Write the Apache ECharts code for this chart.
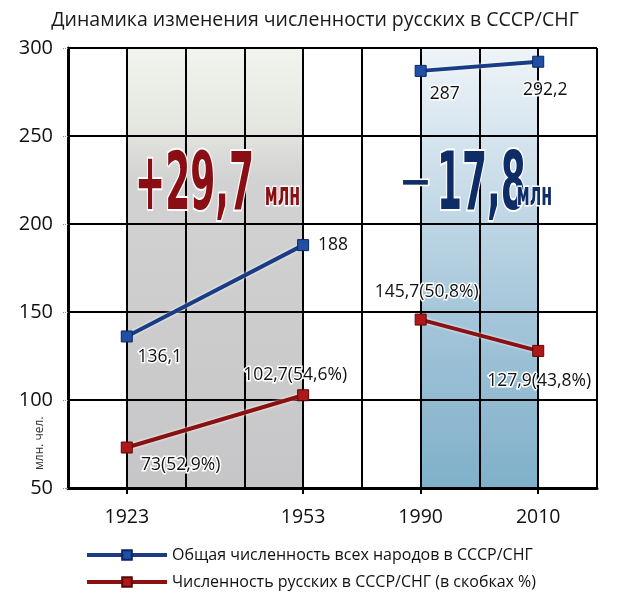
<!DOCTYPE html>
<html>
<head>
<meta charset="utf-8">
<script src="https://cdn.jsdelivr.net/npm/echarts@6/dist/echarts.min.js"></script>
<style>html,body{margin:0;padding:0;background:#fff}#c{width:630px;height:607px}</style>
</head>
<body>
<div id="c"></div>
<script>
const titleText = 'Динамика изменения численности русских в СССР/СНГ';
const categories = ['', '1923', '', '', '1953', '', '1990', '', '2010', ''];
const years = ['1923', '1953', '1990', '2010'];
const totalValues = [136.1, 188, 287, 292.2];
const russianValues = [73, 102.7, 145.7, 127.9];
const russianShare = ['52,9', '54,6', '50,8', '43,8'];
const totalName = 'Общая численность всех народов в СССР/СНГ';
const russianName = 'Численность русских в СССР/СНГ (в скобках %)';
const sovietChange = '+29,7';
const postChange = '\u221217,8';
const unitText = 'млн';
const yAxisTitle = 'млн. чел.';

const FONT = '"Open Sans", "Noto Sans", sans-serif';
const BIG = '"DejaVu Sans Condensed", "DejaVu Sans"';
const fmt = v => String(v).replace('.', ',');

// label offsets (style only) relative to point centers
const totalOffsets = [[33, 21], [30, 0], [24, 23], [7, 28]];
const russianOffsets = [[54, 17], [-8, -20], [6, -28], [1, 30]];

function buildData(values, offsets, textFn, idxs) {
  return idxs.map(i => ({
    value: [categories.indexOf(years[i]), values[i]],
    label: { offset: offsets[i], formatter: textFn(i) }
  }));
}

const labelStyle = {
  show: true, position: 'inside', fontFamily: FONT, fontSize: 17.5, color: '#111',
  textBorderColor: '#fff', textBorderWidth: 3
};

function lineSeries(name, values, offsets, textFn, idxs, color, markerColor, markerBorder) {
  return {
    type: 'line', name: name, z: 5,
    data: buildData(values, offsets, textFn, idxs),
    symbol: 'rect', symbolSize: 11,
    lineStyle: { color: color, width: 4, shadowColor: 'rgba(255,255,255,1)', shadowBlur: 3 },
    itemStyle: { color: markerColor, borderColor: markerBorder, borderWidth: 1 },
    label: Object.assign({}, labelStyle),
    emphasis: { disabled: true },
    animation: false
  };
}

const totalText = i => fmt(totalValues[i]);
const russianText = i => fmt(russianValues[i]) + '(' + russianShare[i] + '%)';

const BLUE = '#1a3c84', BLUE_M = '#2050a6', BLUE_B = '#0b2560';
const RED = '#8a1111', RED_M = '#ad1818', RED_B = '#5a0808';

const chart = echarts.init(document.getElementById('c'), null, { renderer: 'canvas' });
chart.setOption({
  animation: false,
  backgroundColor: '#fff',
  title: {
    text: titleText, left: 'center', top: 5,
    textStyle: { fontFamily: FONT, fontSize: 19.5, fontWeight: 'normal', color: '#1a1a1a' }
  },
  grid: { left: 68, right: 33, top: 48, bottom: 119, containLabel: false },
  xAxis: {
    type: 'category', data: categories, boundaryGap: false, z: 3,
    axisLine: { show: true, lineStyle: { color: '#000', width: 3 } },
    axisTick: { show: true, interval: (i, v) => v !== '', length: 6, lineStyle: { color: '#000', width: 2 } },
    axisLabel: { interval: 0, margin: 19, fontFamily: FONT, fontSize: 19.5, color: '#111' },
    splitLine: { show: true, interval: 0, lineStyle: { color: '#000', width: 2 } }
  },
  yAxis: {
    type: 'value', min: 50, max: 300, interval: 50, z: 3,
    axisLine: { show: true, lineStyle: { color: '#000', width: 3 } },
    axisTick: { show: true, length: 5, lineStyle: { color: '#888', width: 1, type: 'dotted' } },
    axisLabel: { margin: 15, fontFamily: FONT, fontSize: 20, color: '#111' },
    splitLine: { show: true, lineStyle: { color: '#000', width: 2 } }
  },
  legend: {
    orient: 'vertical', left: 80, top: 542,
    itemWidth: 80, itemHeight: 12, itemGap: 11,
    data: [totalName, russianName],
    lineStyle: { width: 4 },
    textStyle: { fontFamily: FONT, fontSize: 16, color: '#111', padding: [0, 0, 0, 0] },
    selectedMode: false
  },
  series: [
    {
      type: 'line', name: 'shade', data: [], z: 1, silent: true,
      markArea: {
        silent: true, z: 1,
        data: [
          [{ xAxis: categories.indexOf(years[0]), itemStyle: { color: {
              type: 'linear', x: 0, y: 0, x2: 0, y2: 1,
              colorStops: [{ offset: 0, color: '#f2f4ee' }, { offset: 0.18, color: '#e4e6e0' },
                           { offset: 0.3, color: '#d2d2d2' }, { offset: 1, color: '#c6c6c8' }] } } },
           { xAxis: categories.indexOf(years[1]) }],
          [{ xAxis: categories.indexOf(years[2]), itemStyle: { color: {
              type: 'linear', x: 0, y: 0, x2: 0, y2: 1,
              colorStops: [{ offset: 0, color: '#eef4f8' }, { offset: 0.25, color: '#d0e1ec' },
                           { offset: 0.6, color: '#a5c6da' }, { offset: 1, color: '#80b0ca' }] } } },
           { xAxis: categories.indexOf(years[3]) }]
        ]
      }
    },
    lineSeries(totalName, totalValues, totalOffsets, totalText, [0, 1], BLUE, BLUE_M, BLUE_B),
    lineSeries(totalName, totalValues, totalOffsets, totalText, [2, 3], BLUE, BLUE_M, BLUE_B),
    lineSeries(russianName, russianValues, russianOffsets, russianText, [0, 1], RED, RED_M, RED_B),
    lineSeries(russianName, russianValues, russianOffsets, russianText, [2, 3], RED, RED_M, RED_B)
  ],
  graphic: [
    { type: 'text', left: 134, top: 146, z: 10, scaleX: 0.5,
      style: { text: sovietChange, font: 'bold 80px ' + BIG,
               fill: '#8a0f14', stroke: '#fff', lineWidth: 4 } },
    { type: 'text', left: 264, top: 179, z: 10, scaleX: 0.55,
      style: { text: unitText, font: 'bold 32px ' + BIG,
               fill: '#8a0f14', stroke: '#fff', lineWidth: 3 } },
    { type: 'text', left: 397, top: 163, z: 10, scaleX: 1.1,
      style: { text: postChange.charAt(0), font: 'bold 40px ' + BIG,
               fill: '#0e2c66', stroke: '#fff', lineWidth: 3 } },
    { type: 'text', left: 436, top: 146, z: 10, scaleX: 0.5,
      style: { text: postChange.slice(1), font: 'bold 80px ' + BIG,
               fill: '#0e2c66', stroke: '#fff', lineWidth: 4 } },
    { type: 'text', left: 516, top: 179, z: 10, scaleX: 0.55,
      style: { text: unitText, font: 'bold 32px ' + BIG,
               fill: '#0e2c66', stroke: '#fff', lineWidth: 3 } },
    { type: 'text', x: 34, y: 470, rotation: Math.PI / 2, z: 10,
      style: { text: yAxisTitle, font: '12px ' + FONT, fill: '#333', textAlign: 'left', textVerticalAlign: 'top' } }
  ]
});
</script>
</body>
</html>
